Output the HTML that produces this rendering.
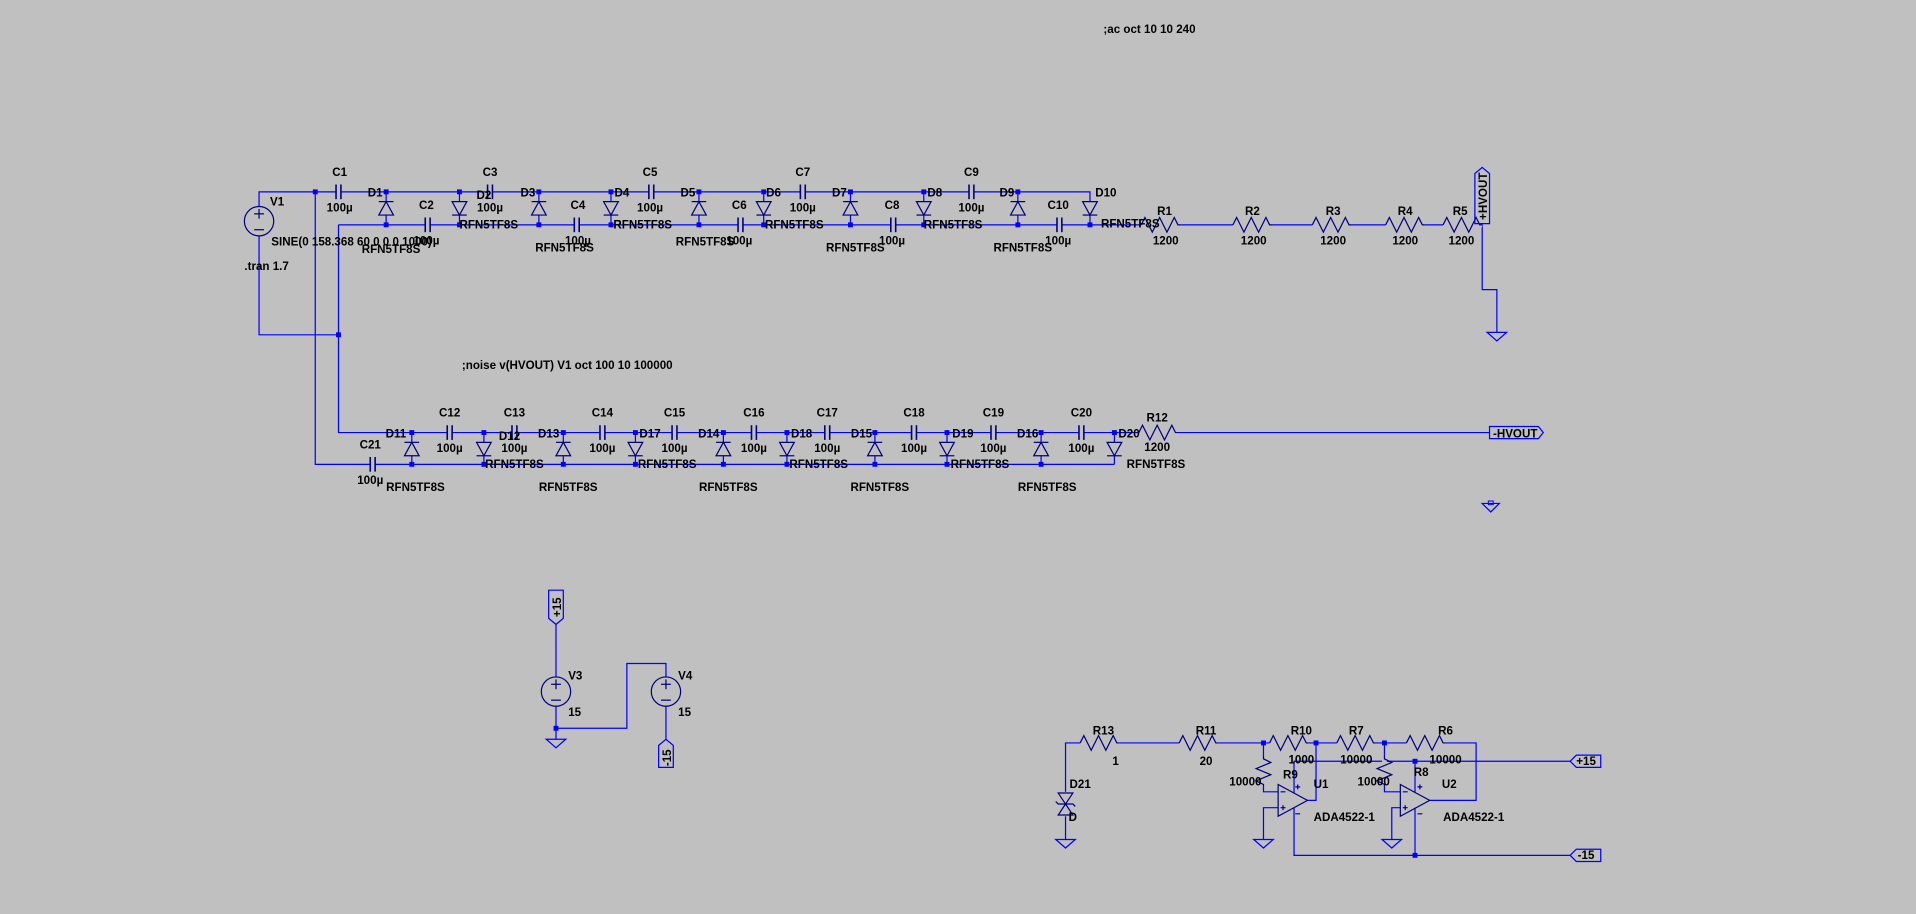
<!DOCTYPE html>
<html><head><meta charset="utf-8"><style>
html,body{margin:0;padding:0;background:#c0c0c0;width:1916px;height:914px;overflow:hidden}
svg{display:block}
text{font-family:"Liberation Sans",sans-serif;font-weight:bold;font-size:9.5px;fill:#000}
</style></head><body>
<svg width="1916" height="914" viewBox="0 0 1568 748" xmlns="http://www.w3.org/2000/svg">
<defs>
<g id="dU"><polygon points="-6,19 6,19 0,8" fill="#c0c0c0" stroke="#000080" stroke-width="1"/><line x1="-6" y1="8" x2="6" y2="8" stroke="#000080"/></g>
<g id="dD"><polygon points="-6,8 6,8 0,19" fill="#c0c0c0" stroke="#000080" stroke-width="1"/><line x1="-6" y1="19" x2="6" y2="19" stroke="#000080"/></g>
<g id="cH"><rect x="-2" y="-3" width="4" height="6" fill="#c0c0c0"/><line x1="-2" y1="-6" x2="-2" y2="6" stroke="#000080" stroke-width="1.3"/><line x1="2" y1="-6" x2="2" y2="6" stroke="#000080" stroke-width="1.3"/></g>
<g id="rH"><rect x="-16" y="-2" width="32" height="4" fill="#c0c0c0"/><polyline points="-16,0 -13,-6 -7,6 -1,-6 5,6 11,-6 14,0 16,0" fill="none" stroke="#000080"/></g>
<g id="rV"><rect x="-2" y="0" width="4" height="26" fill="#c0c0c0"/><polyline points="0,0 0,3 6,6 -6,11 6,16 -6,21 0,24 0,26" fill="none" stroke="#000080"/></g>
<g id="gnd"><polygon points="-8,0 8,0 0,7" fill="none" stroke="#0000ff"/></g>
<g id="vs"><circle r="12" fill="none" stroke="#000080"/><line x1="-4" y1="-6" x2="4" y2="-6" stroke="#000080"/><line x1="0" y1="-10" x2="0" y2="-2" stroke="#000080"/><line x1="-4" y1="7" x2="4" y2="7" stroke="#000080"/></g>
<rect id="dt" x="-2" y="-2" width="4" height="4" fill="#0000ff"/>
</defs>
<g stroke="#0000ff" stroke-width="1" fill="none">
<!-- top chain wires -->
<polyline points="212,169 212,157 892,157 892,184"/>
<polyline points="277,184 1213,184"/>
<polyline points="212,193 212,274 277,274"/>
<polyline points="258,157 258,380 912,380"/>
<polyline points="277,184 277,354 1219,354"/>
<polyline points="912,354 912,380"/>
<polyline points="1213,183 1213,237 1225,237 1225,272"/>
<!-- diode wires -->
<path d="M316,157V184M376,157V184M441,157V184M500,157V184M572,157V184M625,157V184M696,157V184M756,157V184M833,157V184"/>
<path d="M337,354V380M396,354V380M461,354V380M520,354V380M592,354V380M644,354V380M716,354V380M775,354V380M852,354V380"/>
<!-- V3 V4 -->
<polyline points="455,511 455,554"/><polyline points="455,578 455,605"/>
<polyline points="455,596 513,596 513,543 545,543 545,554"/>
<polyline points="545,578 545,605"/>
<!-- bottom right -->
<polyline points="872,687 872,608 1208,608 1208,655 1170,655"/>
<polyline points="1034,608 1034,648 1046,648"/>
<polyline points="1046,661 1034,661 1034,687"/>
<polyline points="1070,655 1077,655 1077,608"/>
<polyline points="1059,649 1059,623 1285,623"/>
<polyline points="1059,661 1059,700 1285,700"/>
<polyline points="1133,608 1133,648 1146,648"/>
<polyline points="1146,661 1139,661 1139,687"/>
<polyline points="1158,649 1158,623"/><polyline points="1158,661 1158,700"/>
</g>
<!-- symbols -->
<use href="#vs" x="212" y="181"/><use href="#vs" x="455" y="566"/><use href="#vs" x="545" y="566"/>
<g>
<use href="#dU" x="316" y="157"/><use href="#dD" x="376" y="157"/><use href="#dU" x="441" y="157"/><use href="#dD" x="500" y="157"/><use href="#dU" x="572" y="157"/><use href="#dD" x="625" y="157"/><use href="#dU" x="696" y="157"/><use href="#dD" x="756" y="157"/><use href="#dU" x="833" y="157"/><use href="#dD" x="892" y="157"/>
<use href="#dU" x="337" y="354"/><use href="#dD" x="396" y="354"/><use href="#dU" x="461" y="354"/><use href="#dD" x="520" y="354"/><use href="#dU" x="592" y="354"/><use href="#dD" x="644" y="354"/><use href="#dU" x="716" y="354"/><use href="#dD" x="775" y="354"/><use href="#dU" x="852" y="354"/><use href="#dD" x="912" y="354"/>
</g>
<g>
<use href="#cH" x="277" y="157"/><use href="#cH" x="401" y="157"/><use href="#cH" x="533" y="157"/><use href="#cH" x="657" y="157"/><use href="#cH" x="795" y="157"/>
<use href="#cH" x="350" y="184"/><use href="#cH" x="472" y="184"/><use href="#cH" x="606" y="184"/><use href="#cH" x="731" y="184"/><use href="#cH" x="867" y="184"/>
<use href="#cH" x="368" y="354"/><use href="#cH" x="421" y="354"/><use href="#cH" x="493" y="354"/><use href="#cH" x="552" y="354"/><use href="#cH" x="617" y="354"/><use href="#cH" x="677" y="354"/><use href="#cH" x="748" y="354"/><use href="#cH" x="813" y="354"/><use href="#cH" x="885" y="354"/>
<use href="#cH" x="305" y="380"/>
</g>
<g>
<use href="#rH" x="950" y="184"/><use href="#rH" x="1025" y="184"/><use href="#rH" x="1090" y="184"/><use href="#rH" x="1150" y="184"/><use href="#rH" x="1197" y="184"/>
<use href="#rH" x="948" y="354"/>
<use href="#rH" x="900" y="608"/><use href="#rH" x="981" y="608"/><use href="#rH" x="1055" y="608"/><use href="#rH" x="1110" y="608"/><use href="#rH" x="1167" y="608"/>
<use href="#rV" x="1034" y="618"/><use href="#rV" x="1133" y="618"/>
</g>
<!-- zener D21 -->
<rect x="868" y="648" width="8" height="20" fill="#c0c0c0"/>
<polygon points="866,649 878,649 872,658" fill="none" stroke="#000080"/>
<polygon points="866,667 878,667 872,658" fill="none" stroke="#000080"/>
<polyline points="864,656 866,658 878,658 880,660" fill="none" stroke="#000080"/>
<!-- opamps -->
<polygon points="1046,642 1046,668 1070,655" fill="none" stroke="#000080"/>
<polygon points="1146,642 1146,668 1170,655" fill="none" stroke="#000080"/>
<g stroke="#000080"><path d="M1048,648h4M1048,661h4M1050,659v4M1148,648h4M1148,661h4M1150,659v4M1060,644h4M1062,642v4M1060,666h4M1160,644h4M1162,642v4M1160,666h4"/></g>
<!-- grounds -->
<use href="#gnd" x="1225" y="272"/><use href="#gnd" x="455" y="605"/><use href="#gnd" x="872" y="687"/><use href="#gnd" x="1034" y="687"/><use href="#gnd" x="1139" y="687"/>
<polygon points="1213,412 1227,412 1220,419" fill="none" stroke="#0000ff"/><rect x="1218" y="410" width="4" height="3" fill="none" stroke="#0000ff" stroke-width="0.8"/>
<!-- flags -->
<g fill="none" stroke="#0000ff">
<polygon points="1207,183 1207,142 1213,137 1219,142 1219,183"/>
<polygon points="1219,349 1259,349 1263,354 1259,359 1219,359"/>
<polygon points="449,483 461,483 461,506 455,511 449,506"/>
<polygon points="539,628 539,610 545,605 551,610 551,628"/>
<polygon points="1285,623 1290,618 1310,618 1310,628 1290,628"/>
<polygon points="1285,700 1290,695 1310,695 1310,705 1290,705"/>
</g>
<!-- dots -->
<g>
<use href="#dt" x="258" y="157"/><use href="#dt" x="277" y="274"/>
<use href="#dt" x="316" y="157"/><use href="#dt" x="316" y="184"/><use href="#dt" x="376" y="157"/><use href="#dt" x="376" y="184"/><use href="#dt" x="441" y="157"/><use href="#dt" x="441" y="184"/><use href="#dt" x="500" y="157"/><use href="#dt" x="500" y="184"/><use href="#dt" x="572" y="157"/><use href="#dt" x="572" y="184"/><use href="#dt" x="625" y="157"/><use href="#dt" x="625" y="184"/><use href="#dt" x="696" y="157"/><use href="#dt" x="696" y="184"/><use href="#dt" x="756" y="157"/><use href="#dt" x="756" y="184"/><use href="#dt" x="833" y="157"/><use href="#dt" x="833" y="184"/><use href="#dt" x="892" y="184"/>
<use href="#dt" x="337" y="354"/><use href="#dt" x="337" y="380"/><use href="#dt" x="396" y="354"/><use href="#dt" x="396" y="380"/><use href="#dt" x="461" y="354"/><use href="#dt" x="461" y="380"/><use href="#dt" x="520" y="354"/><use href="#dt" x="520" y="380"/><use href="#dt" x="592" y="354"/><use href="#dt" x="592" y="380"/><use href="#dt" x="644" y="354"/><use href="#dt" x="644" y="380"/><use href="#dt" x="716" y="354"/><use href="#dt" x="716" y="380"/><use href="#dt" x="775" y="354"/><use href="#dt" x="775" y="380"/><use href="#dt" x="852" y="354"/><use href="#dt" x="852" y="380"/><use href="#dt" x="912" y="354"/>
<use href="#dt" x="455" y="596"/><use href="#dt" x="1034" y="608"/><use href="#dt" x="1077" y="608"/><use href="#dt" x="1133" y="608"/><use href="#dt" x="1158" y="623"/><use href="#dt" x="1158" y="700"/>
</g>
<!-- texts -->
<g>
<text x="903" y="27">;ac oct 10 10 240</text>
<text x="378" y="302">;noise v(HVOUT) V1 oct 100 10 100000</text>
<text x="221" y="168">V1</text>
<text x="222" y="201">SINE(0 158.368 60 0 0 0 1000)</text>
<text x="200" y="221">.tran 1.7</text>
</g>
<g text-anchor="middle">
<text x="278" y="144">C1</text><text x="278" y="173">100µ</text>
<text x="401" y="144">C3</text><text x="401" y="173">100µ</text>
<text x="532" y="144">C5</text><text x="532" y="173">100µ</text>
<text x="657" y="144">C7</text><text x="657" y="173">100µ</text>
<text x="795" y="144">C9</text><text x="795" y="173">100µ</text>
<text x="349" y="171">C2</text><text x="349" y="200">100µ</text>
<text x="473" y="171">C4</text><text x="473" y="200">100µ</text>
<text x="605" y="171">C6</text><text x="605" y="200">100µ</text>
<text x="730" y="171">C8</text><text x="730" y="200">100µ</text>
<text x="866" y="171">C10</text><text x="866" y="200">100µ</text>
<text x="307" y="161">D1</text><text x="396" y="163">D2</text><text x="432" y="161">D3</text><text x="509" y="161">D4</text><text x="563" y="161">D5</text><text x="633" y="161">D6</text><text x="687" y="161">D7</text><text x="765" y="161">D8</text><text x="824" y="161">D9</text><text x="905" y="161">D10</text>
<text x="320" y="207">RFN5TF8S</text><text x="462" y="206">RFN5TF8S</text><text x="577" y="201">RFN5TF8S</text><text x="700" y="206">RFN5TF8S</text><text x="837" y="206">RFN5TF8S</text>
<text x="400" y="187">RFN5TF8S</text><text x="526" y="187">RFN5TF8S</text><text x="650" y="187">RFN5TF8S</text><text x="780" y="187">RFN5TF8S</text><text x="925" y="186">RFN5TF8S</text>
<text x="953" y="176">R1</text><text x="954" y="200">1200</text>
<text x="1025" y="176">R2</text><text x="1026" y="200">1200</text>
<text x="1091" y="176">R3</text><text x="1091" y="200">1200</text>
<text x="1150" y="176">R4</text><text x="1150" y="200">1200</text>
<text x="1195" y="176">R5</text><text x="1196" y="200">1200</text>
<text x="368" y="341">C12</text><text x="368" y="370">100µ</text>
<text x="421" y="341">C13</text><text x="421" y="370">100µ</text>
<text x="493" y="341">C14</text><text x="493" y="370">100µ</text>
<text x="552" y="341">C15</text><text x="552" y="370">100µ</text>
<text x="617" y="341">C16</text><text x="617" y="370">100µ</text>
<text x="677" y="341">C17</text><text x="677" y="370">100µ</text>
<text x="748" y="341">C18</text><text x="748" y="370">100µ</text>
<text x="813" y="341">C19</text><text x="813" y="370">100µ</text>
<text x="885" y="341">C20</text><text x="885" y="370">100µ</text>
<text x="303" y="367">C21</text><text x="303" y="396">100µ</text>
<text x="324" y="358">D11</text><text x="417" y="360">D12</text><text x="449" y="358">D13</text><text x="532" y="358">D17</text><text x="580" y="358">D14</text><text x="656" y="358">D18</text><text x="705" y="358">D15</text><text x="788" y="358">D19</text><text x="841" y="358">D16</text><text x="924" y="358">D20</text>
<text x="340" y="402">RFN5TF8S</text><text x="465" y="402">RFN5TF8S</text><text x="596" y="402">RFN5TF8S</text><text x="720" y="402">RFN5TF8S</text><text x="857" y="402">RFN5TF8S</text>
<text x="421" y="383">RFN5TF8S</text><text x="546" y="383">RFN5TF8S</text><text x="670" y="383">RFN5TF8S</text><text x="802" y="383">RFN5TF8S</text><text x="946" y="383">RFN5TF8S</text>
<text x="947" y="345">R12</text><text x="947" y="369">1200</text>
<text x="1240" y="358">-HVOUT</text>
<text x="903" y="601">R13</text><text x="913" y="626">1</text>
<text x="987" y="601">R11</text><text x="987" y="626">20</text>
<text x="1065" y="601">R10</text><text x="1065" y="625">1000</text>
<text x="1110" y="601">R7</text><text x="1110" y="625">10000</text>
<text x="1183" y="601">R6</text><text x="1183" y="625">10000</text>
<text x="1298" y="626">+15</text><text x="1298" y="703">-15</text>
<text x="884" y="645">D21</text><text x="878" y="672">D</text>
</g>
<g>
<text x="1050" y="637">R9</text><text x="1006" y="643">10000</text>
<text x="1157" y="635">R8</text><text x="1111" y="643">10000</text>
<text x="1075" y="645">U1</text><text x="1180" y="645">U2</text>
<text x="1075" y="672">ADA4522-1</text><text x="1181" y="672">ADA4522-1</text>
<text x="465" y="556">V3</text><text x="465" y="586">15</text>
<text x="555" y="556">V4</text><text x="555" y="586">15</text>
</g>
<text transform="translate(1217,180) rotate(-90)">+HVOUT</text>
<text transform="translate(459,505) rotate(-90)">+15</text>
<text transform="translate(549,627) rotate(-90)">-15</text>
</svg>
</body></html>
